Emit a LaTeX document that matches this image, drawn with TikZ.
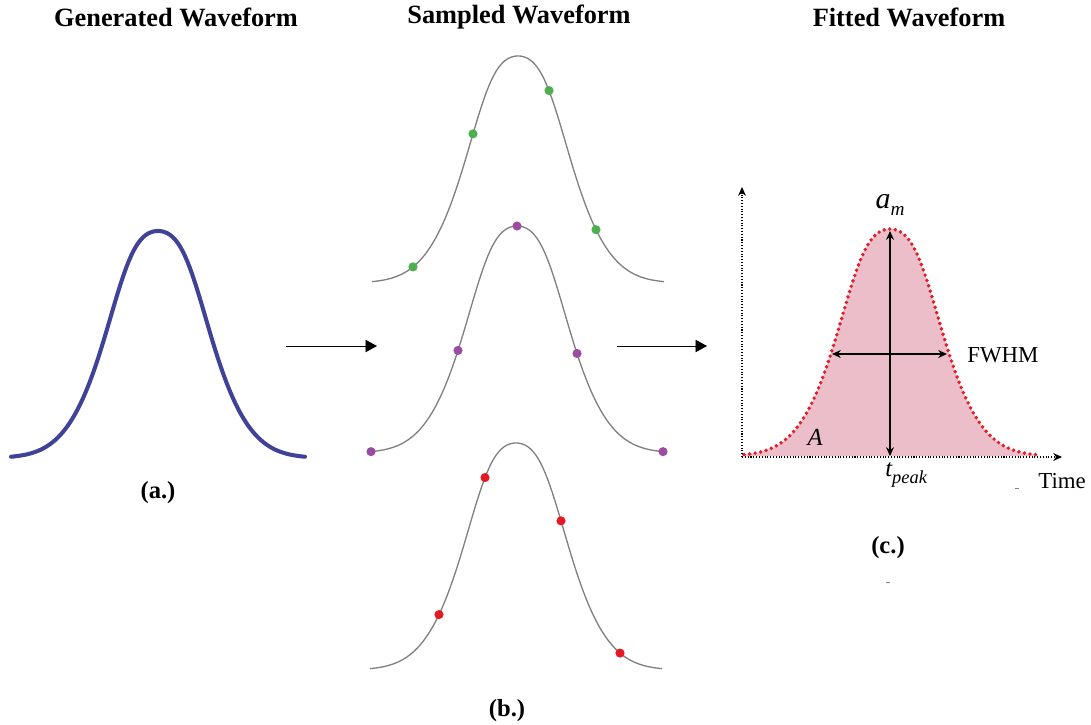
\documentclass[tikz,border=0pt]{standalone}
\usepackage{fontspec}
\setmainfont{Liberation Serif}
\usepackage{xcolor}
\usetikzlibrary{arrows.meta}
\definecolor{wavebl}{RGB}{64,66,152}
\definecolor{sampgray}{RGB}{128,128,128}
\definecolor{dotgreen}{RGB}{76,175,80}
\definecolor{dotpurple}{RGB}{155,75,160}
\definecolor{dotred}{RGB}{230,25,35}
\definecolor{fitpink}{RGB}{236,190,201}
\definecolor{fitred}{RGB}{225,30,40}

\begin{document}
\begin{tikzpicture}[x=0.02cm, y=-0.02cm,
  declare function={wave(\u)=227*exp(-2.4*\u*\u*(0.45+0.55*(1-exp(-\u*\u/0.1444))));},
  paneltitle/.style={font=\fontsize{15}{18}\selectfont\bfseries},
  panelcap/.style={font=\fontsize{14}{17}\selectfont\bfseries},
  genwave/.style={draw=wavebl, line width=2.3pt, line cap=round},
  sampwave/.style={draw=sampgray, line width=0.75pt},
  flow/.style={line width=0.45pt, -{Triangle[length=6.5pt,width=7pt]}},
  axisline/.style={densely dotted, line width=0.6pt, -{Stealth[length=5pt,width=4.5pt]}},
  measure/.style={{Stealth[length=5pt,width=4.5pt]}-{Stealth[length=5pt,width=4.5pt]}},
  fitdots/.style={draw=fitred, line width=2.2pt, line cap=round, dash pattern=on 0pt off 3.2pt}]
  \useasboundingbox (0,0) rectangle (1091,724);

  % Panel titles
  \node[paneltitle] (gentitle) at (176,17) {Generated Waveform};
  \node[paneltitle] (samptitle) at (519,17) {Sampled Waveform};
  \node[paneltitle] (fittitle) at (909,17) {Fitted Waveform};

  % (a.) generated pulse
  \draw[genwave] plot[domain=-147:147, samples=121] ({158+\x},{458-wave(\x/100)});
  \node[panelcap] (capa) at (158,493) {(a.)};

  % (b.) three sampled copies
  \draw[sampwave] plot[domain=-146:146, samples=121] ({518+\x},{283-wave(\x/100)});
  \foreach \d in {-105,-45,31,78}
    \fill[dotgreen] ({518+\d},{283-wave(\d/100)}) circle[radius=2.6pt];
  \draw[sampwave] plot[domain=-146:146, samples=121] ({517+\x},{453-wave(\x/100)});
  \foreach \d in {-146,-59,0,60,146}
    \fill[dotpurple] ({517+\d},{453-wave(\d/100)}) circle[radius=2.6pt];
  \draw[sampwave] plot[domain=-146:146, samples=121] ({516+\x},{670-wave(\x/100)});
  \foreach \d in {-77,-31,45,104}
    \fill[dotred] ({516+\d},{670-wave(\d/100)}) circle[radius=2.6pt];
  \node[panelcap] (capb) at (507,711) {(b.)};

  % Flow arrows
  \coordinate (genR) at (286,346);
  \coordinate (sampL) at (377,346);
  \coordinate (sampR) at (617,346);
  \coordinate (fitL) at (707,346);
  \draw[flow] (genR) -- (sampL);
  \draw[flow] (sampR) -- (fitL);

  % (c.) fitted pulse
  \fill[fitpink] (744,456) -- plot[domain=-146:146, samples=121] ({890+\x},{456-wave(\x/100)}) -- (1036,456) -- cycle;
  \coordinate (origin) at (742,457);
  \coordinate (ytop) at (742,187);
  \coordinate (xend) at (1062,457);
  \draw[axisline] (origin) -- (ytop);
  \draw[axisline] (origin) -- (xend);
  \draw[fitdots] plot[domain=-146:146, samples=121] ({890+\x},{456-wave(\x/100)});

  \coordinate (peak) at (890,231);
  \coordinate (tpk) at (890,456);
  \coordinate (hwl) at (832,354);
  \coordinate (hwr) at (947,354);
  \draw[measure, line width=0.9pt] (peak) -- (tpk);
  \draw[measure, line width=0.6pt] (hwl) -- (hwr);

  \node[anchor=base, inner sep=0pt, font=\fontsize{17}{20}\selectfont] (am) at (890,208)
    {\textit{a}\raisebox{-4.5pt}{\fontsize{11}{13}\selectfont\textit{m}}};
  \node[anchor=base, inner sep=0pt, font=\fontsize{13}{16}\selectfont] (fwhm) at (1003,362) {FWHM};
  \node[anchor=base, inner sep=0pt, font=\fontsize{14}{17}\selectfont\itshape] (area) at (815,445) {A};
  \node[anchor=base west, inner sep=0pt, font=\fontsize{14}{17}\selectfont\itshape] (tpeak) at (885,476)
    {t\raisebox{-4.5pt}{\fontsize{10.5}{12}\selectfont peak}};
  \node[anchor=base west, inner sep=0pt, font=\fontsize{13}{16}\selectfont] (timelbl) at (1038,488) {Time};
  \node[panelcap] (capc) at (888,548) {(c.)};

  % stray marks
  \draw[gray, line width=0.5pt] (1015,488) -- (1019,488);
  \draw[gray, line width=0.5pt] (886,582) -- (890,582);
\end{tikzpicture}
\end{document}
